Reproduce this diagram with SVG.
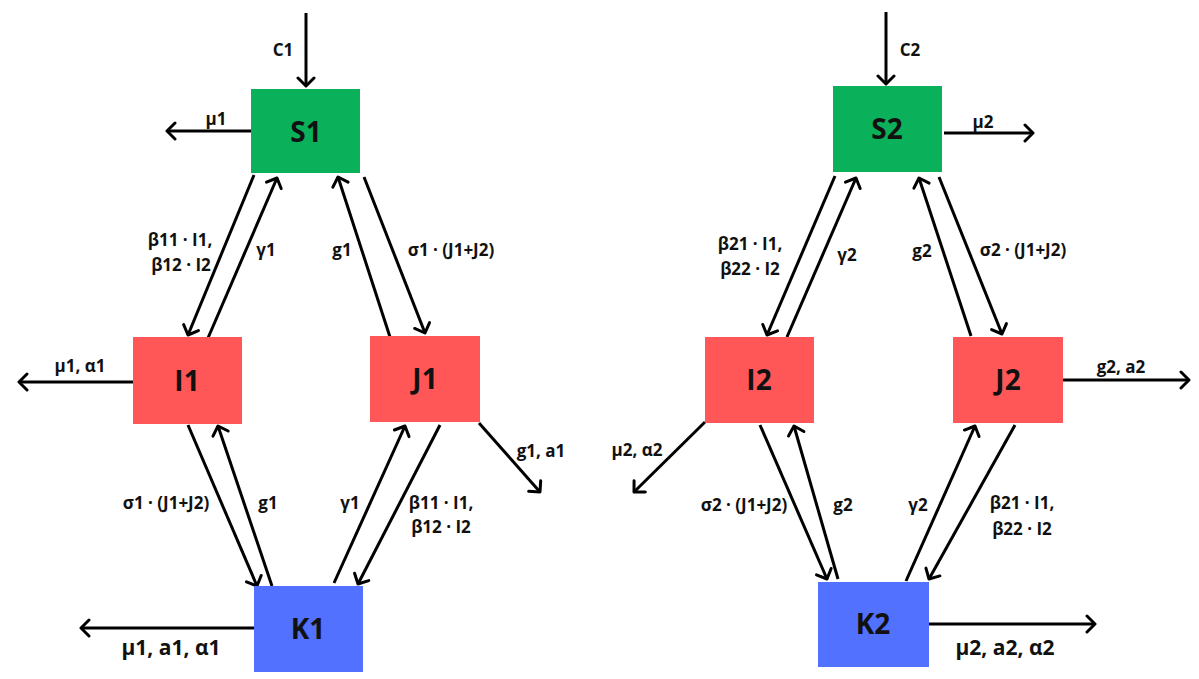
<svg xmlns="http://www.w3.org/2000/svg" width="1199" height="679" viewBox="0 0 1199 679">
<style>
.bg{fill:#ffffff}
.s{fill:#0bb05a}
.i{fill:#ff5757}
.k{fill:#5271ff}
.nl{font-family:"Open Sans","DejaVu Sans",sans-serif;font-weight:700;font-size:28px;fill:#111;text-anchor:middle}
.el{font-family:"Open Sans","DejaVu Sans",sans-serif;font-weight:700;font-size:17px;fill:#111;text-anchor:middle}
.big{font-size:21px}
.c{stroke:#000;stroke-width:3;fill:none;marker-end:url(#ah)}
</style>
<defs>
<marker id="ah" viewBox="0 0 20 20" refX="11" refY="10" markerWidth="20" markerHeight="20" markerUnits="userSpaceOnUse" orient="auto">
<path d="M3,2 L11,10 L3,18" stroke="#000" stroke-width="3" fill="none" stroke-linecap="round" stroke-linejoin="round"/>
</marker>
</defs>
<rect class="bg" x="0" y="0" width="1199" height="679"/>
<g id="connectors">
<line class="c" x1="306" y1="13" x2="306" y2="86"/>
<line class="c" x1="251" y1="131" x2="167" y2="131"/>
<line class="c" x1="254" y1="175" x2="188" y2="335"/>
<line class="c" x1="208" y1="338" x2="277" y2="178"/>
<line class="c" x1="390" y1="337" x2="338" y2="177"/>
<line class="c" x1="364" y1="177" x2="425" y2="333"/>
<line class="c" x1="133" y1="382" x2="19" y2="382"/>
<line class="c" x1="479" y1="423" x2="540" y2="492"/>
<line class="c" x1="188" y1="425" x2="257" y2="586"/>
<line class="c" x1="272" y1="586" x2="218" y2="426"/>
<line class="c" x1="334" y1="583" x2="405" y2="426"/>
<line class="c" x1="440" y1="425" x2="358" y2="584"/>
<line class="c" x1="254" y1="628" x2="81" y2="628"/>
<line class="c" x1="886" y1="12" x2="886" y2="84"/>
<line class="c" x1="944" y1="133" x2="1033" y2="133"/>
<line class="c" x1="835" y1="176" x2="767" y2="335"/>
<line class="c" x1="787" y1="337" x2="856" y2="178"/>
<line class="c" x1="971" y1="336" x2="919" y2="178"/>
<line class="c" x1="939" y1="177" x2="1002" y2="334"/>
<line class="c" x1="1063" y1="380" x2="1189" y2="380"/>
<line class="c" x1="705" y1="422" x2="634" y2="492"/>
<line class="c" x1="760" y1="425" x2="827" y2="579"/>
<line class="c" x1="838" y1="579" x2="794" y2="426"/>
<line class="c" x1="906" y1="581" x2="975" y2="426"/>
<line class="c" x1="1015" y1="425" x2="929" y2="579"/>
<line class="c" x1="929" y1="624" x2="1095" y2="624"/>
</g>
<g id="edge-labels">
<text class="el" x="283" y="56">C1</text>
<text class="el" x="216" y="125">μ1</text>
<text class="el" x="180" y="246">β11 · I1,</text>
<text class="el" x="181" y="271">β12 · I2</text>
<text class="el" x="266" y="256">γ1</text>
<text class="el" x="342" y="256">g1</text>
<text class="el" x="451" y="256">σ1 · (J1+J2)</text>
<text class="el" x="80" y="372">μ1, α1</text>
<text class="el" x="541" y="457">g1, a1</text>
<text class="el" x="166" y="509">σ1 · (J1+J2)</text>
<text class="el" x="268" y="509">g1</text>
<text class="el" x="350" y="509">γ1</text>
<text class="el" x="441" y="509">β11 · I1,</text>
<text class="el" x="441" y="533">β12 · I2</text>
<text class="el big" x="171" y="655">μ1, a1, α1</text>
<text class="el" x="910" y="56">C2</text>
<text class="el" x="983" y="128">μ2</text>
<text class="el" x="750" y="250">β21 · I1,</text>
<text class="el" x="750" y="275">β22 · I2</text>
<text class="el" x="847" y="261">γ2</text>
<text class="el" x="922" y="257">g2</text>
<text class="el" x="1023" y="256">σ2 · (J1+J2)</text>
<text class="el" x="1121" y="373">g2, a2</text>
<text class="el" x="637" y="456">μ2, α2</text>
<text class="el" x="744" y="511">σ2 · (J1+J2)</text>
<text class="el" x="843" y="511">g2</text>
<text class="el" x="918" y="511">γ2</text>
<text class="el" x="1022" y="509">β21 · I1,</text>
<text class="el" x="1022" y="535">β22 · I2</text>
<text class="el big" x="1005" y="655">μ2, a2, α2</text>
</g>
<g id="S1"><rect class="s" x="251" y="89" width="109" height="84"/><text class="nl" x="306" y="142">S1</text></g>
<g id="I1"><rect class="i" x="133" y="337" width="109" height="87"/><text class="nl" x="187" y="391">I1</text></g>
<g id="J1"><rect class="i" x="370" y="336" width="110" height="86"/><text class="nl" x="425" y="389">J1</text></g>
<g id="K1"><rect class="k" x="254" y="586" width="109" height="86"/><text class="nl" x="308" y="639">K1</text></g>
<g id="S2"><rect class="s" x="833" y="86" width="109" height="86"/><text class="nl" x="887" y="139">S2</text></g>
<g id="I2"><rect class="i" x="705" y="337" width="109" height="86"/><text class="nl" x="759" y="390">I2</text></g>
<g id="J2"><rect class="i" x="953" y="337" width="110" height="86"/><text class="nl" x="1008" y="390">J2</text></g>
<g id="K2"><rect class="k" x="818" y="582" width="111" height="85"/><text class="nl" x="873" y="634">K2</text></g>
</svg>
